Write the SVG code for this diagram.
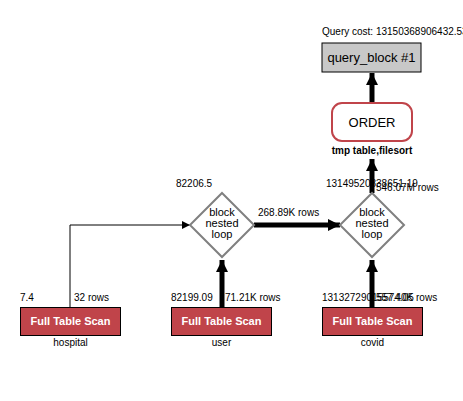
<svg xmlns="http://www.w3.org/2000/svg" width="463" height="401" viewBox="0 0 463 401">
<style>
text{font-family:"Liberation Sans",Arial,sans-serif;fill:#000}
.s{font-size:10px}
.d{font-size:11px}
.m{font-size:13px}
.b{font-weight:bold}
.scan{fill:#c0444a;stroke:#000;stroke-width:1}
.st{font-size:11px;font-weight:bold;fill:#fff}
.dia{fill:#fff;stroke:#808080;stroke-width:2}
.thick{stroke:#000;stroke-width:5;fill:none}
.thin{stroke:#000;stroke-width:1;fill:none}
</style>
<defs>
<marker id="ah" viewBox="0 0 10 10" refX="10" refY="5" markerWidth="2.4" markerHeight="2.4" orient="auto" markerUnits="strokeWidth"><path d="M0,0L10,5L0,10z" fill="#000"/></marker>
<marker id="ahs" viewBox="0 0 10 10" refX="10" refY="5" markerWidth="10" markerHeight="8" orient="auto" markerUnits="userSpaceOnUse"><path d="M0,0L10,5L0,10z" fill="#000"/></marker>
</defs>
<rect width="463" height="401" fill="#fff"/>
<g id="connectors">
<path class="thin" d="M70,308V225H190" marker-end="url(#ahs)"/>
<path class="thick" d="M222,308V260" marker-end="url(#ah)"/>
<path class="thick" d="M254,225H340" marker-end="url(#ah)"/>
<path class="thick" d="M372,308V260" marker-end="url(#ah)"/>
<path class="thick" d="M372,193V159" marker-end="url(#ah)"/>
<path class="thick" d="M372,103V73" marker-end="url(#ah)"/>
<text class="s" x="258" y="216">268.89K rows</text>
<text class="s" x="74" y="301">32 rows</text>
<text class="s" x="225" y="301">71.21K rows</text>
<text class="s" x="376" y="301">557.40K rows</text>
<text class="s" x="376" y="191">546.07M rows</text>
</g>
<g id="query_block">
<text class="s" x="322" y="35">Query cost: 13150368906432.53</text>
<rect x="322" y="43" width="99" height="29" fill="#c8c8c8" stroke="#000" stroke-width="1"/>
<text class="m" x="371.5" y="62" text-anchor="middle">query_block #1</text>
</g>
<g id="order">
<rect x="332" y="103" width="80" height="38" rx="10" fill="#fff" stroke="#c0444a" stroke-width="2"/>
<text class="m" x="372" y="127" text-anchor="middle">ORDER</text>
<text class="s b" x="372" y="154" text-anchor="middle">tmp table,filesort</text>
</g>
<g id="nested_loop_1">
<text class="s" x="176" y="187">82206.5</text>
<path class="dia" d="M222,193L254,225L222,257L190,225Z"/>
<text class="d" x="222" y="216" text-anchor="middle">block</text>
<text class="d" x="222" y="227" text-anchor="middle">nested</text>
<text class="d" x="222" y="238" text-anchor="middle">loop</text>
</g>
<g id="nested_loop_2">
<text class="s" x="326" y="187">13149520838651.19</text>
<path class="dia" d="M372,193L404,225L372,257L340,225Z"/>
<text class="d" x="372" y="216" text-anchor="middle">block</text>
<text class="d" x="372" y="227" text-anchor="middle">nested</text>
<text class="d" x="372" y="238" text-anchor="middle">loop</text>
</g>
<g id="hospital">
<text class="s" x="20" y="301">7.4</text>
<rect class="scan" x="20.5" y="307.5" width="100" height="28"/>
<text class="st" x="70.5" y="325" text-anchor="middle">Full Table Scan</text>
<text class="s" x="70.5" y="346" text-anchor="middle">hospital</text>
</g>
<g id="user">
<text class="s" x="171" y="301">82199.09</text>
<rect class="scan" x="171.5" y="307.5" width="100" height="28"/>
<text class="st" x="221.5" y="325" text-anchor="middle">Full Table Scan</text>
<text class="s" x="221.5" y="346" text-anchor="middle">user</text>
</g>
<g id="covid">
<text class="s" x="322" y="301">13132729015574.05</text>
<rect class="scan" x="322.5" y="307.5" width="100" height="28"/>
<text class="st" x="372.5" y="325" text-anchor="middle">Full Table Scan</text>
<text class="s" x="372.5" y="346" text-anchor="middle">covid</text>
</g>
</svg>
